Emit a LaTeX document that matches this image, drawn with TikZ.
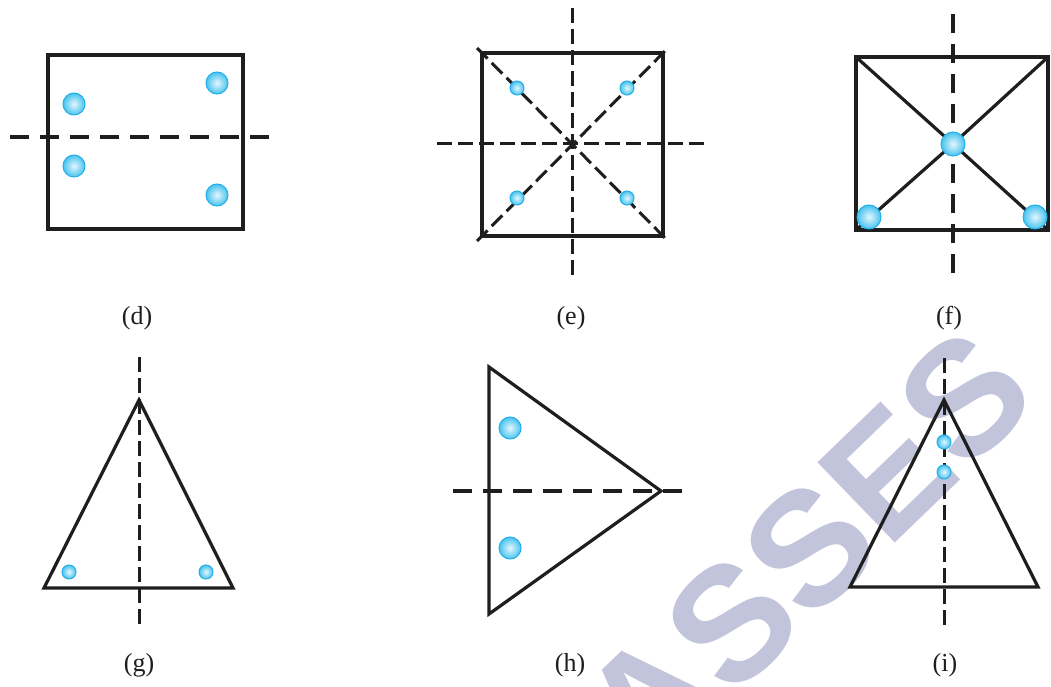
\documentclass[tikz,border=0pt]{standalone}
\usepackage{fontspec}
\setmainfont{Liberation Serif}
\newfontfamily\wmfont{Liberation Sans}
\definecolor{dotin}{RGB}{228,246,253}
\definecolor{dotout}{RGB}{70,195,238}
\definecolor{dotedge}{RGB}{35,175,232}
\definecolor{wmcol}{RGB}{193,196,219}
\definecolor{ink}{RGB}{30,30,30}
\begin{document}
\begin{tikzpicture}[x=1pt,y=-1pt,
  outline/.style={line width=3.2pt, draw=ink, line join=miter},
  axis/.style={line width=3.2pt, draw=ink, dash pattern=on 19pt off 11pt},
  axisshort/.style={line width=3pt, draw=ink, dash pattern=on 15pt off 6pt},
  ball/.style={circle, inner sep=0pt, minimum size=#1, draw=dotedge, line width=1pt, inner color=dotin, outer color=dotout},
  lab/.style={font=\fontsize{26}{26}\selectfont, inner sep=0pt, text=ink},
  wm/.style={font=\wmfont\bfseries\fontsize{162}{162}\selectfont, text=wmcol, inner sep=0pt}]
\useasboundingbox (0,0) rectangle (1051,687);
\clip (0,0) rectangle (1051,687);
\fill[white] (0,0) rectangle (1051,687);
% watermark
\node[wm, rotate=44, anchor=east] (wmark) at (1004,360) {CLASSES};

% ---------- (d) ----------
\coordinate (d-nw) at (48,55);
\coordinate (d-se) at (243,229);
\coordinate (d-al) at (10,137);
\coordinate (d-ar) at (273,137);
\draw[outline] (d-nw) rectangle (d-se);
\draw[axis] (d-al) -- (d-ar);
\node[ball=22pt] (d1) at (74,104) {};
\node[ball=22pt] (d2) at (217,83) {};
\node[ball=22pt] (d3) at (74,166) {};
\node[ball=22pt] (d4) at (217,195) {};
\node[lab] (ld) at (137,318) {(d)};

% ---------- (e) ----------
\coordinate (e-nw) at (482,53);
\coordinate (e-se) at (663,236);
\coordinate (e-t) at (572,8);
\coordinate (e-b) at (572,280);
\coordinate (e-l) at (437,144);
\coordinate (e-r) at (707,144);
\coordinate (e-d1a) at (477,48);
\coordinate (e-d1b) at (668,241);
\coordinate (e-d2a) at (477,241);
\coordinate (e-d2b) at (668,48);
\draw[outline] (e-nw) rectangle (e-se);
\draw[axisshort] (e-t) -- (e-b);
\draw[axisshort] (e-l) -- (e-r);
\draw[axisshort] (e-d1a) -- (e-d1b);
\draw[axisshort] (e-d2a) -- (e-d2b);
\node[ball=14pt] (e1) at (517,88) {};
\node[ball=14pt] (e2) at (627,88) {};
\node[ball=14pt] (e3) at (517,198) {};
\node[ball=14pt] (e4) at (627,198) {};
\node[lab] (le) at (571,318) {(e)};

% ---------- (f) ----------
\coordinate (f-nw) at (856,57);
\coordinate (f-ne) at (1048,57);
\coordinate (f-sw) at (856,230);
\coordinate (f-se) at (1048,230);
\coordinate (f-t) at (953,14);
\coordinate (f-b) at (953,275);
\draw[axis] (f-t) -- (f-b);
\draw[outline] (f-nw) rectangle (f-se);
\coordinate (f0) at (953,144);
\draw[outline] (f-nw) -- (f0) -- (f-se);
\draw[outline] (f-ne) -- (f0) -- (f-sw);
\node[ball=24pt] (fc) at (f0) {};
\node[ball=24pt] (f1) at (869,217) {};
\node[ball=24pt] (f2) at (1035,217) {};
\node[lab] (lf) at (949,318) {(f)};

% ---------- (g) ----------
\coordinate (g-a) at (139,400);
\coordinate (g-l) at (44,588);
\coordinate (g-r) at (233,588);
\coordinate (g-t) at (139,357);
\coordinate (g-b) at (139,627);
\draw[outline] (g-a) -- (g-l) -- (g-r) -- cycle;
\draw[axisshort] (g-t) -- (g-b);
\node[ball=14pt] (g1) at (69,572) {};
\node[ball=14pt] (g2) at (206,572) {};
\node[lab] (lg) at (139,665) {(g)};

% ---------- (h) ----------
\coordinate (h-t) at (489,367);
\coordinate (h-b) at (489,614);
\coordinate (h-r) at (661,491);
\coordinate (h-al) at (453,491);
\coordinate (h-ar) at (686,491);
\draw[outline] (h-t) -- (h-b) -- (h-r) -- cycle;
\draw[axis] (h-al) -- (h-ar);
\node[ball=22pt] (h1) at (510,428) {};
\node[ball=22pt] (h2) at (510,548) {};
\node[lab] (lh) at (570,665) {(h)};

% ---------- (i) ----------
\coordinate (i-a) at (944,400);
\coordinate (i-l) at (850,587);
\coordinate (i-r) at (1038,587);
\coordinate (i-t) at (944,358);
\coordinate (i-b) at (944,630);
\draw[outline] (i-a) -- (i-l) -- (i-r) -- cycle;
\draw[axisshort] (i-t) -- (i-b);
\node[ball=14pt] (i1) at (944,442) {};
\node[ball=14pt] (i2) at (944,472) {};
\node[lab] (li) at (945,665) {(i)};
\end{tikzpicture}
\end{document}
